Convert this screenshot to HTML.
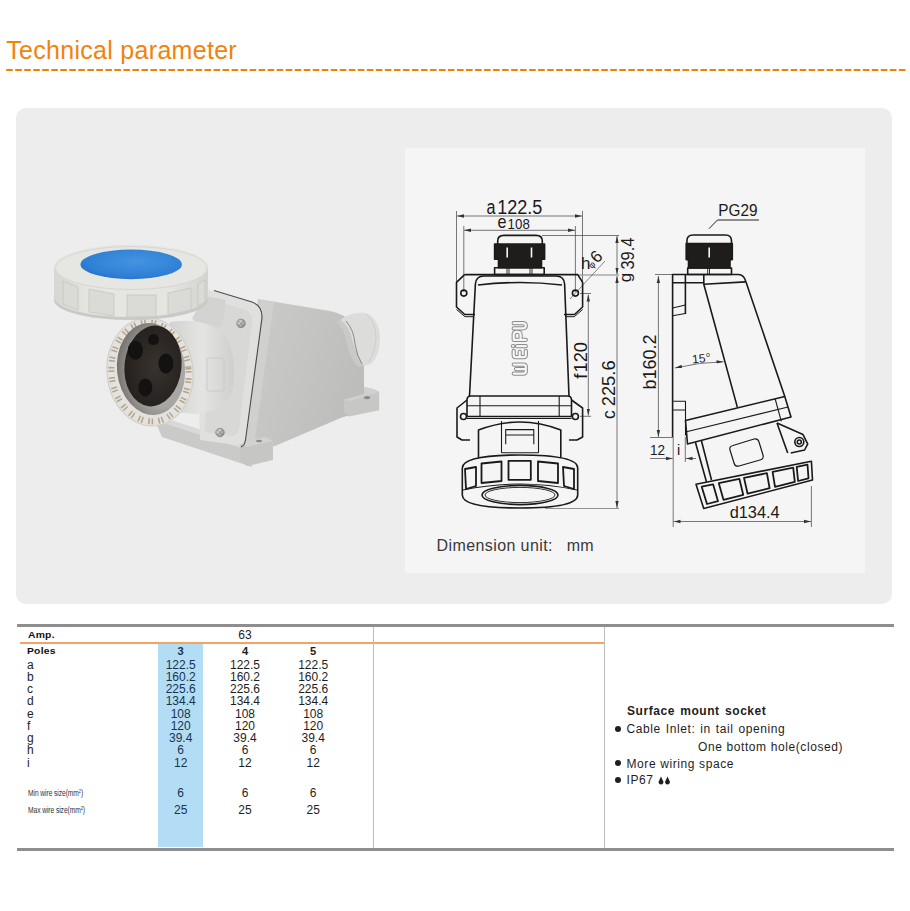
<!DOCTYPE html>
<html><head><meta charset="utf-8">
<style>
html,body{margin:0;padding:0;background:#fff;}
body{width:910px;height:911px;position:relative;overflow:hidden;font-family:"Liberation Sans",sans-serif;}
.a{position:absolute;white-space:nowrap;line-height:1;}
#title{left:6.2px;top:38.2px;font-size:25px;color:#F0830A;letter-spacing:0.3px;}
#dash{left:6px;top:69px;width:901px;height:2px;background:repeating-linear-gradient(to right,#F08300 0 7px,transparent 7px 9px);}
#panel{left:16px;top:108px;width:876px;height:496px;background:#EDEDED;border-radius:10px;}
#inner{left:405px;top:148px;width:460px;height:425px;background:#F5F5F5;}
.hl{position:absolute;background:#8E8E8E;}
.vl{position:absolute;background:#BDBDBD;width:1px;}
.t12{font-size:12px;color:#1e1e1e;}
.num{position:absolute;width:60px;text-align:center;font-size:12px;line-height:1;color:#1e1e1e;}
.bh{font-size:8.6px;font-weight:bold;color:#111;letter-spacing:0.2px;transform:scaleX(1.2);transform-origin:0 0;}
.sm{font-size:8.4px;color:#333;transform:scaleX(0.8);transform-origin:0 0;letter-spacing:-0.1px;}
.sm sup{font-size:5px;vertical-align:3px;}
.rt{font-size:12px;color:#1e1e1e;letter-spacing:0.6px;}
</style></head>
<body>
<div class="a" id="title">Technical parameter</div>
<svg class="a" style="left:0;top:0;" width="910" height="80"><line x1="6.15" y1="70" x2="906" y2="70" stroke="#EF8200" stroke-width="2" stroke-dasharray="6.6 2.417"/></svg>
<div class="a" id="panel"></div>
<div class="a" id="inner"></div>
<!--PHOTO-->
<svg class="a" style="left:0;top:0;" width="410" height="611" viewBox="0 0 410 611">
<defs>
<linearGradient id="bodyg" x1="0" y1="0" x2="1" y2="0.4">
<stop offset="0" stop-color="#CBCBC9"/><stop offset="0.5" stop-color="#C5C5C3"/><stop offset="1" stop-color="#BDBDBB"/>
</linearGradient>
<linearGradient id="capside" x1="0" y1="0" x2="1" y2="0">
<stop offset="0" stop-color="#D6D6D2"/><stop offset="0.25" stop-color="#E6E6E2"/><stop offset="0.75" stop-color="#E4E4E0"/><stop offset="1" stop-color="#D2D2CE"/>
</linearGradient>
<radialGradient id="blueg" cx="0.55" cy="0.4" r="0.65">
<stop offset="0" stop-color="#4493E2"/><stop offset="0.75" stop-color="#2F80D6"/><stop offset="1" stop-color="#2870C6"/>
</radialGradient>
<linearGradient id="housg" x1="0" y1="0" x2="1" y2="0">
<stop offset="0" stop-color="#D2D2D0"/><stop offset="0.5" stop-color="#E4E4E2"/><stop offset="1" stop-color="#CFCFCD"/>
</linearGradient>
<radialGradient id="wallg" cx="0.62" cy="0.55" r="0.62">
<stop offset="0.6" stop-color="#A9A7A3"/><stop offset="1" stop-color="#77746F"/>
</radialGradient>
<radialGradient id="faceg" cx="0.55" cy="0.5" r="0.6">
<stop offset="0" stop-color="#38332F"/><stop offset="1" stop-color="#231F1D"/>
</radialGradient>
<radialGradient id="screw" cx="0.4" cy="0.4" r="0.6">
<stop offset="0" stop-color="#E8E8E8"/><stop offset="1" stop-color="#8C8C8A"/>
</radialGradient>
</defs>
<!-- base strip under socket -->
<path d="M152 414 L250 446 L252 467 L162 437 Z" fill="#CACAC8"/>
<path d="M152 414 L250 446 L250 451 L154 420 Z" fill="#D9D9D7"/>
<!-- main body -->
<path d="M258 299 L330 311 Q362 318 364 350 L364 388 L364 412 L343 417 L275 446 L243 447 Z" fill="url(#bodyg)"/>
<path d="M260 300 L274 302 L254 446 L243 447 Z" fill="#D0D0CE"/>
<!-- right foot -->
<path d="M344 399.8 L364 394 L364 387 L374 389.2 L379.2 392 L379.2 410.3 L349 416.5 L344 412 Z" fill="#C7C7C5"/>
<path d="M344 399.8 L364 394 L364 387 L374 389.2 L379.2 392 L350 401 Z" fill="#D0D0CE"/>
<ellipse cx="367" cy="397.6" rx="3.2" ry="1.6" fill="#8A8A88"/>
<!-- cable gland -->
<path d="M340 320 Q352 311 366 313 Q379 319 380 337 Q380 356 371 364 L364 366 Q356 356 352 340 Q348 326 340 320 Z" fill="#DCDCDA"/>
<path d="M340 320 Q350 326 352 340 Q355 356 364 366 L358 367 Q348 356 346 340 Q344 328 336 322 Z" fill="#C9C9C5"/>
<path d="M346 321 Q354 330 355 344 Q357 356 362 364" fill="none" stroke="#8E8A80" stroke-width="1"/>
<path d="M366 314 Q376 322 376 338 Q375 354 368 362" fill="none" stroke="#CFCFCB" stroke-width="1"/>
<!-- bottom-left foot -->
<path d="M240 442 L266 437 L273 441 L273 460 L247 466 L240 461 Z" fill="#C6C6C4"/>
<path d="M240 442 L266 437 L273 441 L246 447 Z" fill="#D2D2D0"/>
<ellipse cx="259" cy="441" rx="3" ry="1.3" fill="#8A8A88"/>
<!-- front plate -->
<path d="M209 290 L252 302 Q262 306 261 318 L246 436 Q244 446 236 445 L200 440 L196 300 Z" fill="#E0E0DE"/>
<path d="M212 300 L246 310 Q253 314 252 322 L239 430 Q237 437 230 436 L205 432 Z" fill="#D8D8D6"/>
<path d="M214 290.5 L252 302 Q262.5 306 262 318 L245.5 440 Q244.5 446 241 447" stroke="#4A4A48" stroke-width="1.1" fill="none"/>
<circle cx="241" cy="323.4" r="4.3" fill="url(#screw)" stroke="#7A7A78" stroke-width="0.6"/>
<path d="M238.5 321 L243.5 326 M243.5 321 L238.5 326" stroke="#6E6E6C" stroke-width="0.7"/>
<circle cx="220" cy="432.5" r="4.3" fill="url(#screw)" stroke="#7A7A78" stroke-width="0.6"/>
<path d="M217.5 430 L222.5 435 M222.5 430 L217.5 435" stroke="#6E6E6C" stroke-width="0.7"/>
<!-- hinge bracket under cap -->
<path d="M192 318 L206 296 L226 300 L222 326 L200 330 Z" fill="#D3D3D1"/>
<!-- socket housing cylinder -->
<path d="M170 322 Q208 316 227 338 Q238 362 232 392 Q222 412 196 414 L172 412 Z" fill="url(#housg)"/>
<rect x="207" y="358" width="17" height="33" rx="2" fill="none" stroke="#CACAC8" stroke-width="1"/>
<!-- outer slotted ring -->
<ellipse cx="150" cy="372" rx="43" ry="54" transform="rotate(-6 150 372)" fill="#E4E2DE"/>
<ellipse cx="150" cy="372" rx="38.5" ry="49.5" transform="rotate(-6 150 372)" fill="none" stroke="#B3A389" stroke-width="6" stroke-dasharray="1.5 1.8 1.5 5.4"/>
<ellipse cx="150" cy="372" rx="43" ry="54" transform="rotate(-6 150 372)" fill="none" stroke="#CFCDC8" stroke-width="1"/>
<!-- inner wall -->
<ellipse cx="151" cy="369" rx="34" ry="46" transform="rotate(-6 151 369)" fill="url(#wallg)"/>
<!-- dark face -->
<ellipse cx="153" cy="366" rx="28.5" ry="40.5" transform="rotate(6 153 366)" fill="url(#faceg)"/>
<circle cx="153.5" cy="339.6" r="5.5" fill="#141211"/>
<ellipse cx="135.4" cy="350.3" rx="7.5" ry="9.5" fill="#141211"/>
<ellipse cx="165.9" cy="363.5" rx="7.5" ry="10" fill="#141211"/>
<ellipse cx="145.3" cy="387.4" rx="7" ry="9" fill="#141211"/>
<!-- cap shadow on ring -->

<!-- cap side -->
<path d="M54 267 L54 298 A77 20 0 0 0 208 298 L208 267 Z" fill="url(#capside)"/>
<g fill="#DADAD6" stroke="#C4C4C0" stroke-width="0.8">
<path d="M63 281 L78 287 L78 310 L63 304 Z"/>
<path d="M89 289 L114 294 L114 316 L89 312 Z"/>
<path d="M127 295 L156 295 L156 317 L127 317 Z"/>
<path d="M168 293 L191 288 L191 310 L168 315 Z"/>
<path d="M198 284 L205 280 L205 302 L198 306 Z"/>
</g>
<path d="M54 297 A77 20 0 0 0 208 297 L208 300 A77 20 0 0 1 54 300 Z" fill="#C9C9C5"/>
<!-- cap top -->
<ellipse cx="131.2" cy="267" rx="77" ry="22.5" fill="#E6E6E2"/>
<ellipse cx="131.2" cy="268" rx="76" ry="21.5" fill="none" stroke="#D6D6D2" stroke-width="1"/>
<ellipse cx="131.2" cy="264.4" rx="50.7" ry="14.8" fill="url(#blueg)"/>
</svg>

<!--/PHOTO-->
<!--DRAW-->
<svg class="a" style="left:0;top:0;" width="910" height="611" viewBox="0 0 910 611">
<defs>
<marker id="ar" viewBox="0 0 10 6" refX="10" refY="3" markerWidth="7" markerHeight="4.2" orient="auto-start-reverse" markerUnits="userSpaceOnUse"><path d="M0 0.6 L10 3 L0 5.4 Z" fill="#333"/></marker>
</defs>
<!-- ===== dimension / extension lines ===== -->
<g stroke="#555" stroke-width="0.8" fill="none">
<!-- a -->
<path d="M457 216 L582 216" marker-start="url(#ar)" marker-end="url(#ar)"/>
<path d="M456.5 211 V283 M582.5 211 V283"/>
<!-- e -->
<path d="M464 230.3 L575 230.3" marker-start="url(#ar)" marker-end="url(#ar)"/>
<path d="M463.8 226 V292 M575.4 226 V292"/>
<!-- gland top ext + body top ext -->
<path d="M542 235.5 H619"/>
<path d="M578 275 H619" stroke="#888" stroke-width="1.2"/>
<!-- g -->
<path d="M617 236 V274.5" marker-start="url(#ar)" marker-end="url(#ar)"/>
<!-- c -->
<path d="M617 276 V508" marker-start="url(#ar)" marker-end="url(#ar)"/>
<path d="M545 508.5 H619" stroke="#777"/>
<!-- f -->
<path d="M588.3 294.5 V415.5" marker-start="url(#ar)" marker-end="url(#ar)"/>
<path d="M580 293.5 H591 M580 416.3 H591"/>
<!-- h leader -->
<path d="M605 261 L570 299" stroke-width="0.7"/>
<!-- b -->
<path d="M658.4 276 V437" marker-start="url(#ar)" marker-end="url(#ar)"/>
<path d="M655 274.5 H673"/>
<!-- 12 / i -->
<path d="M650 458.5 H672.8" marker-end="url(#ar)"/>
<path d="M685.5 458.5 H696" marker-start="url(#ar)"/>
<path d="M650 437.5 H673"/>
<path d="M685.3 437 V462"/>
<!-- d -->
<path d="M673.5 521.5 H811" marker-start="url(#ar)" marker-end="url(#ar)"/>
<path d="M673.2 437 V527 M811.4 486 V527"/>
<!-- PG29 leader -->
<path d="M709 228.7 L717.5 220 H759" stroke="#222" stroke-width="1"/>
<!-- 15 deg arc -->
<path d="M675 368 Q700 362 723.5 361.8" marker-start="url(#ar)" marker-end="url(#ar)"/>
</g>

<!-- ===== front view ===== -->
<g stroke="#1c1a19" stroke-width="1.6" fill="none" stroke-linejoin="round">
<!-- gland -->
<path d="M497.7 244 V241 Q497.7 235.4 504 235.4 H536 Q542.3 235.4 542.3 241 V244" />
<path d="M494.6 244 H544.6 V259.2 H541.5 V267.7 H498.5 V259.2 H494.6 Z" fill="#201c1b"/>
<path d="M494.6 267.7 H544.2 V274.6 H494.6 Z"/>
<path d="M507.2 247.5 V257.5 M531.5 247.5 V257.5" stroke="#f5f5f5" stroke-width="1.6"/>
<path d="M507 268 V274.6 M509 268 V274.6 M530 268 V274.6 M532 268 V274.6" stroke-width="0.9"/>
<!-- top ears + body top line -->
<path d="M464.6 274.6 H577.7 L582.6 282.3 V307 L574.5 314.5 H564 M464.6 274.6 L456.5 282.3 V307 L464.8 314.5 H475"/>
<path d="M456.5 309.5 L465 316.7 H474 M582.6 309.5 L574.3 316.7 H565" stroke-width="1"/>
<circle cx="463.8" cy="293.1" r="3"/><circle cx="575.4" cy="293.1" r="3"/>
<!-- body -->
<path d="M469.5 396 L475.4 284 Q476 276 484 276 H556 Q564 276 564.6 284 L569 396"/>
<path d="M478 285 Q520 280 562 285"/>
<!-- lower flange -->
<path d="M471 396 H567.5 Q571.5 396 571.5 400 V416.5 H467 V400 Q467 396 471 396 Z"/>
<path d="M467 405.8 H571.5 M467 418.5 H571.5 M480 396 V416.5 M559.2 396 V416.5" stroke-width="1.1"/>
<!-- lower ears -->
<path d="M467 400 L457 408 V437 L462 440 H470 M571.5 400 L582.6 408 V437 L577 440 H569"/>
<circle cx="463.5" cy="416.5" r="3"/><circle cx="575.4" cy="416.5" r="3"/>
<!-- socket housing -->
<path d="M478.5 458 V430 Q520 414 560.8 430 V458"/>
<path d="M501.5 452.7 V421 M538.5 452.7 V421 M501.5 452.7 H538.5" stroke-width="1.1"/>
<path d="M505.7 444.2 V429.6 H533.8 V444.2 M505.7 435 H533.8" stroke-width="1.1"/>
<!-- ring -->
<path d="M462.3 468 Q462.3 455 520 455 Q577.7 455 577.7 468 V495 Q577.7 508 520 508 Q462.3 508 462.3 495 Z" fill="#f5f5f5"/>
<g stroke-width="1.8">
<path d="M465 469 L476 467 V486 L466 489 Z"/>
<path d="M481.5 463.5 L501.5 461.5 V481 L481.5 483 Z"/>
<path d="M508.5 460.8 H530.8 V479.8 H508.5 Z"/>
<path d="M538 461.5 L558 463.5 V483 L538 481 Z"/>
<path d="M563 467 L574 469 V489 L564 486 Z"/>
</g>
<path d="M463 490 Q520 478 577 490" stroke-width="1.1"/>
<ellipse cx="520" cy="495" rx="38" ry="9.6" stroke-width="1.6"/>
<ellipse cx="520" cy="495" rx="35" ry="7.6" stroke-width="0.9"/>
</g>
<!-- WEIPU outlined -->
<g transform="translate(528 375.8) rotate(-90)" fill="none" stroke-linecap="round" stroke-linejoin="round">
<path d="M2.2 -14.3 V-4.5 Q2.2 -2.2 4.5 -2.2 H8.9 Q11.2 -2.2 11.2 -4.5 V-14.3 M6.7 -2.2 V-12 M25 -14.3 H20.5 Q18.6 -14.3 18.6 -12.3 V-4.2 Q18.6 -2.2 20.5 -2.2 H25 M18.6 -8.3 H24 M29.6 -11 V-2.2 M29.6 -15 V-14.8 M36 -2.2 V-14.3 H41 Q43.9 -14.3 43.9 -11.3 V-10.2 Q43.9 -7.4 41 -7.4 H36 M47.4 -14.3 V-5.2 Q47.4 -2.2 50 -2.2 Q52.6 -2.2 52.6 -5.2 V-14.3" stroke="#8c8c8c" stroke-width="4.2"/>
<path d="M2.2 -14.3 V-4.5 Q2.2 -2.2 4.5 -2.2 H8.9 Q11.2 -2.2 11.2 -4.5 V-14.3 M6.7 -2.2 V-12 M25 -14.3 H20.5 Q18.6 -14.3 18.6 -12.3 V-4.2 Q18.6 -2.2 20.5 -2.2 H25 M18.6 -8.3 H24 M29.6 -11 V-2.2 M29.6 -15 V-14.8 M36 -2.2 V-14.3 H41 Q43.9 -14.3 43.9 -11.3 V-10.2 Q43.9 -7.4 41 -7.4 H36 M47.4 -14.3 V-5.2 Q47.4 -2.2 50 -2.2 Q52.6 -2.2 52.6 -5.2 V-14.3" stroke="#f5f5f5" stroke-width="2.2"/>
</g>

<!-- ===== side view ===== -->
<g stroke="#1c1a19" stroke-width="1.6" fill="none" stroke-linejoin="round">
<!-- gland -->
<path d="M686.9 243.5 V241 Q686.9 235 693 235 H725.5 Q731.5 235 731.5 241 V243.5"/>
<path d="M686.2 243.5 H732.3 V259.6 H730 V268 H688.5 V259.6 H686.2 Z" fill="#201c1b"/>
<path d="M687.7 268 H731.5 V274.5 H687.7 Z"/>
<path d="M709.2 247.5 V257.5" stroke="#f5f5f5" stroke-width="1.6"/>
<path d="M707.7 268 V274.5 M709.5 268 V274.5" stroke-width="0.9"/>
<!-- body -->
<path d="M672.6 437 V274.5 H738.5 Q744 274.5 746 282 L784.8 396.5"/>
<path d="M685.4 274.5 V314 M672.6 282.7 H703.8 M703.8 274.5 V284.2 L745.4 281.9 M703.8 284.2 L737.4 407.4"/>
<path d="M672.6 308 L685.4 305 M672.6 315.8 L685.4 313.5" stroke-width="1.1"/>
<!-- small bracket lower -->
<path d="M673.2 401.2 H685.5 V435.5 M673.2 410 H685.5" stroke-width="1.1"/>
<!-- flange band -->
<path d="M685.5 420.5 L784.8 396.5 L791 417 L687.5 444 Z"/>
<path d="M685.5 432 L788 407" stroke-width="1.1"/>
<path d="M775.2 399 L781.3 421.4" stroke-width="1.1"/>
<!-- housing -->
<path d="M695.4 442.3 L706.5 482 M701.5 441 L711.5 480 M777 423 L787.7 453"/>
<path d="M777 423 L803 434.6 L807.7 443.8 L804.6 450 L790.8 453"/>
<circle cx="799.3" cy="442" r="4.5"/><circle cx="799.3" cy="442" r="2"/>
<path d="M733 445.5 L754 439 Q758 438 759 442 L763 455 Q764 459 760 460 L739 466 Q735 467 734 463 L730 450 Q729 446.5 733 445.5 Z" stroke-width="1.2"/>
<!-- ring -->
<path d="M696 484.3 L811.4 461.2 L812.5 480 L703.7 508.5 Z" fill="#f5f5f5"/>
<g stroke-width="1.8">
<path d="M701.7 486.7 L713.1 484.3 L718.0 501.2 L707.0 504.0 Z"/>
<path d="M718.8 483.2 L739.4 478.9 L743.2 494.8 L723.5 499.8 Z"/>
<path d="M744.0 477.9 L766.9 473.1 L769.6 488.2 L747.6 493.7 Z"/>
<path d="M772.6 471.9 L793.2 467.6 L794.8 481.8 L775.0 486.8 Z"/>
<path d="M796.7 466.9 L807.5 464.7 L808.5 478.3 L798.1 481.0 Z"/>
</g>
</g>
</g>

<!-- ===== labels ===== -->
<g font-family="Liberation Sans" fill="#1c1a19">
<text x="486.6" y="213.5" font-size="20" textLength="9" lengthAdjust="spacingAndGlyphs">a</text>
<text x="497.2" y="213.5" font-size="20" textLength="45.2" lengthAdjust="spacingAndGlyphs">122.5</text>
<text x="497.5" y="227.8" font-size="18.5" textLength="9" lengthAdjust="spacingAndGlyphs">e</text>
<text x="507.6" y="228.8" font-size="14.3" textLength="22.2" lengthAdjust="spacingAndGlyphs">108</text>
<text x="581" y="268.7" font-size="17">h</text>
<text transform="translate(592 269) rotate(-45)" font-size="9">&#966;</text>
<text transform="translate(597 264) rotate(-45)" font-size="17">6</text>
<text transform="translate(634.3 269.6) rotate(-90)" font-size="17.5" textLength="31.9" lengthAdjust="spacingAndGlyphs">39.4</text>
<text transform="translate(631.2 282.2) rotate(-90)" font-size="17">g</text>
<text transform="translate(587 372.6) rotate(-90)" font-size="18.4">120</text>
<text transform="translate(587 378.7) rotate(-90)" font-size="18.4">f</text>
<text transform="translate(614.5 406.3) rotate(-90)" font-size="19" textLength="45.9" lengthAdjust="spacingAndGlyphs">225.6</text>
<text transform="translate(614.5 419) rotate(-90)" font-size="17.5">c</text>
<text transform="translate(656.2 389.6) rotate(-90)" font-size="19" textLength="55.2" lengthAdjust="spacingAndGlyphs">b160.2</text>

<text x="718.3" y="215.8" font-size="16" textLength="39.2" lengthAdjust="spacingAndGlyphs">PG29</text>
<text transform="translate(692.5 363.4) rotate(-6)" font-size="12">15</text>
<text x="706" y="357" font-size="7">o</text>
<text x="650" y="455.3" font-size="14.5" textLength="15" lengthAdjust="spacingAndGlyphs">12</text>
<text x="677" y="455.3" font-size="14.5">i</text>
<text x="729.7" y="518.4" font-size="16" textLength="50" lengthAdjust="spacingAndGlyphs">d134.4</text>
<text x="436.5" y="551" font-size="16" fill="#3a3a3a" textLength="116" lengthAdjust="spacing">Dimension unit:</text><text x="566.8" y="551" font-size="16" fill="#3a3a3a">mm</text>
</g>
</svg>

<!--/DRAW-->

<!-- table -->
<div class="hl" style="left:17px;top:624px;width:877px;height:3px;"></div>
<div class="hl" style="left:17px;top:848px;width:877px;height:3px;"></div>
<div class="a" style="left:20px;top:642px;width:585px;height:2px;background:#F2A465;"></div>
<div class="vl" style="left:373px;top:627px;height:221px;"></div>
<div class="vl" style="left:604px;top:627px;height:221px;"></div>
<div class="a" style="left:158px;top:644px;width:45px;height:203px;background:#B3DDF5;"></div>

<div class="a t12" style="left:27px;top:658.54px;">a</div>
<div class="num" style="left:150.7px;top:658.54px;color:#163450;">122.5</div>
<div class="num" style="left:215px;top:658.54px;">122.5</div>
<div class="num" style="left:283.2px;top:658.54px;">122.5</div>
<div class="a t12" style="left:27px;top:670.79px;">b</div>
<div class="num" style="left:150.7px;top:670.79px;color:#163450;">160.2</div>
<div class="num" style="left:215px;top:670.79px;">160.2</div>
<div class="num" style="left:283.2px;top:670.79px;">160.2</div>
<div class="a t12" style="left:27px;top:683.04px;">c</div>
<div class="num" style="left:150.7px;top:683.04px;color:#163450;">225.6</div>
<div class="num" style="left:215px;top:683.04px;">225.6</div>
<div class="num" style="left:283.2px;top:683.04px;">225.6</div>
<div class="a t12" style="left:27px;top:695.29px;">d</div>
<div class="num" style="left:150.7px;top:695.29px;color:#163450;">134.4</div>
<div class="num" style="left:215px;top:695.29px;">134.4</div>
<div class="num" style="left:283.2px;top:695.29px;">134.4</div>
<div class="a t12" style="left:27px;top:707.54px;">e</div>
<div class="num" style="left:150.7px;top:707.54px;color:#163450;">108</div>
<div class="num" style="left:215px;top:707.54px;">108</div>
<div class="num" style="left:283.2px;top:707.54px;">108</div>
<div class="a t12" style="left:27px;top:719.79px;">f</div>
<div class="num" style="left:150.7px;top:719.79px;color:#163450;">120</div>
<div class="num" style="left:215px;top:719.79px;">120</div>
<div class="num" style="left:283.2px;top:719.79px;">120</div>
<div class="a t12" style="left:27px;top:732.04px;">g</div>
<div class="num" style="left:150.7px;top:732.04px;color:#163450;">39.4</div>
<div class="num" style="left:215px;top:732.04px;">39.4</div>
<div class="num" style="left:283.2px;top:732.04px;">39.4</div>
<div class="a t12" style="left:27px;top:744.29px;">h</div>
<div class="num" style="left:150.7px;top:744.29px;color:#163450;">6</div>
<div class="num" style="left:215px;top:744.29px;">6</div>
<div class="num" style="left:283.2px;top:744.29px;">6</div>
<div class="a t12" style="left:27px;top:756.54px;">i</div>
<div class="num" style="left:150.7px;top:756.54px;color:#163450;">12</div>
<div class="num" style="left:215px;top:756.54px;">12</div>
<div class="num" style="left:283.2px;top:756.54px;">12</div>
<div class="a sm" style="left:27.5px;top:789.09px;">Min wire size(mm<sup>2</sup>)</div>
<div class="num" style="left:150.7px;top:787.24px;color:#163450;">6</div>
<div class="num" style="left:215px;top:787.24px;">6</div>
<div class="num" style="left:283.2px;top:787.24px;">6</div>
<div class="a sm" style="left:27.5px;top:805.89px;">Max wire size(mm<sup>2</sup>)</div>
<div class="num" style="left:150.7px;top:804.04px;color:#163450;">25</div>
<div class="num" style="left:215px;top:804.04px;">25</div>
<div class="num" style="left:283.2px;top:804.04px;">25</div>
<div class="a bh" style="left:27.5px;top:630.72px;">Amp.</div>
<div class="num" style="left:215px;top:629.14px;">63</div>
<div class="a bh" style="left:27px;top:646.82px;">Poles</div>
<div class="num" style="left:150.7px;top:645.82px;font-weight:bold;font-size:11.2px;color:#163450;">3</div>
<div class="num" style="left:215px;top:645.82px;font-weight:bold;font-size:11.2px;">4</div>
<div class="num" style="left:283.2px;top:645.82px;font-weight:bold;font-size:11.2px;">5</div>
<div class="a rt" style="left:627px;top:704.94px;font-weight:bold;letter-spacing:0.55px;word-spacing:1.5px;">Surface mount socket</div>
<div class="a rt" style="left:626.5px;top:722.74px;word-spacing:1px;">Cable Inlet: in tail opening</div>
<div class="a rt" style="left:698px;top:740.74px;">One bottom hole(closed)</div>
<div class="a rt" style="left:626.5px;top:758.44px;">More wiring space</div>
<div class="a rt" style="left:626.5px;top:774.14px;">IP67</div>
<div class="a" style="left:614.7px;top:725.6px;width:6px;height:6px;border-radius:50%;background:#1e1e1e;"></div>
<div class="a" style="left:614.7px;top:759.9px;width:6px;height:6px;border-radius:50%;background:#1e1e1e;"></div>
<div class="a" style="left:614.7px;top:777px;width:6px;height:6px;border-radius:50%;background:#1e1e1e;"></div>
<svg class="a" style="left:658px;top:776px;" width="13" height="9" viewBox="0 0 13 9"><path d="M3 0.5 L5.3 5.5 A2.4 2.4 0 1 1 0.7 5.5 Z" fill="#1e1e1e"/><path d="M9.5 0.5 L11.8 5.5 A2.4 2.4 0 1 1 7.2 5.5 Z" fill="#1e1e1e"/></svg>
</body></html>
